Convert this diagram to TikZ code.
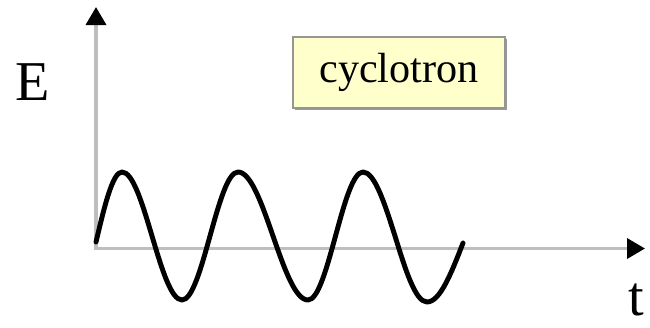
\documentclass[tikz,border=0pt]{standalone}
\usepackage{fontspec}
\setmainfont{Liberation Serif}
\usepackage{tikz}
\usetikzlibrary{arrows.meta, positioning, shadows}
\definecolor{axisgray}{RGB}{190,190,190}
\definecolor{notepaper}{RGB}{255,255,204}
\definecolor{noteedge}{RGB}{150,150,150}

\begin{document}
\begin{tikzpicture}[
  axis/.style={draw=axisgray, line width=2pt, line cap=rect,
               -{Triangle[length=0.36cm, width=0.4cm, color=black]}},
  wave/.style={draw=black, line width=2.8pt, line cap=round, line join=round},
  axlabel/.style={anchor=base, inner sep=0pt, font=\fontsize{32}{38}\selectfont},
  note/.style={rectangle, draw=noteedge, line width=0.8pt, fill=notepaper,
               minimum width=4.24cm, minimum height=1.42cm, font=\fontsize{24}{28}\selectfont,
               drop shadow={shadow xshift=1.2pt, shadow yshift=-1.2pt, fill=gray!80, opacity=1}},
]
  \useasboundingbox (0,0) rectangle (13,6.54);

  \coordinate (origin) at (1.92,1.57);
  \coordinate (etop) at (1.92,6.40);
  \coordinate (tend) at (12.90,1.57);

  \draw[axis] (origin) -- (etop);
  \draw[axis] (origin) -- (tend);

  \node[axlabel] (elabel) at (0.66,4.54) {E};
  \node[axlabel] (tlabel) at (12.72,0.24) {t};

  \node[note] (cyclo) at (7.98,5.09) {cyclotron};

  % three periods of the field
  \draw[wave] (1.92,1.70) sin (2.44,3.10) cos (3.04,1.82) sin (3.64,0.54) cos (4.20,1.82)
              sin (4.76,3.10) cos (5.46,1.82) sin (6.16,0.54) cos (6.71,1.82)
              sin (7.26,3.10) cos (7.90,1.82) sin (8.54,0.50) cos (9.26,1.68);
\end{tikzpicture}
\end{document}
